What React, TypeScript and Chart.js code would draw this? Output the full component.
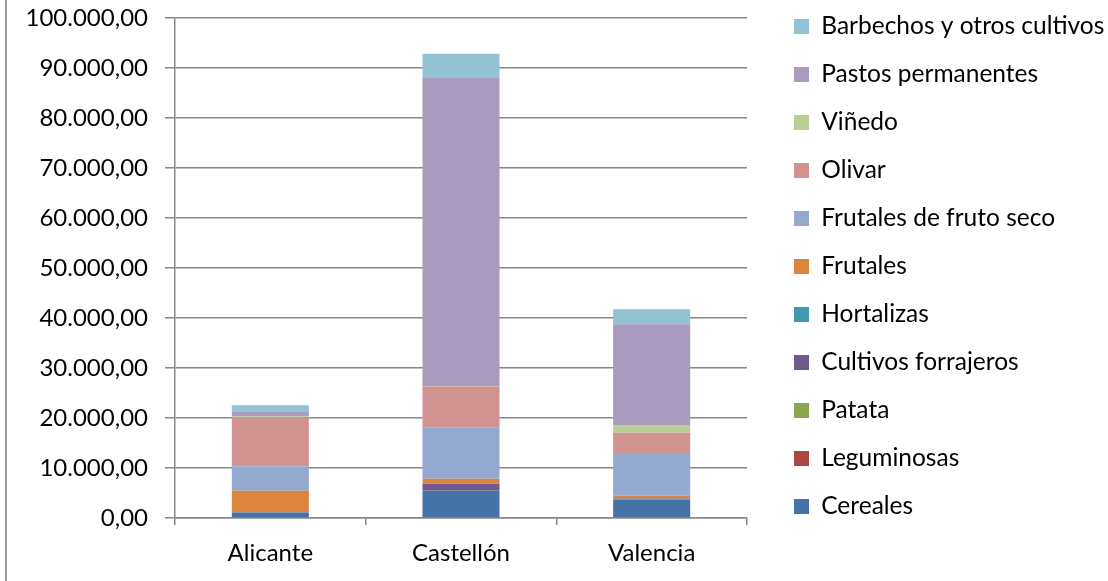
import React, { useEffect, useRef } from "react";
import { Chart, registerables } from "chart.js";

Chart.register(...registerables);

const categories = ["Alicante", "Castellón", "Valencia"];

const cereales = [1100, 5500, 3600];
const leguminosas = [60, 80, 60];
const patata = [40, 40, 40];
const cultivosForrajeros = [100, 1250, 200];
const hortalizas = [60, 40, 60];
const frutales = [4100, 950, 560];
const frutalesFrutoSeco = [4870, 10270, 8480];
const olivar = [9800, 8170, 4060];
const vinedo = [200, 60, 1540];
const pastosPermanentes = [1000, 61650, 20130];
const barbechos = [1200, 4860, 3000];

const yMax = 100000;
const yStep = 10000;

const seriesNames = [
  "Cereales",
  "Leguminosas",
  "Patata",
  "Cultivos forrajeros",
  "Hortalizas",
  "Frutales",
  "Frutales de fruto seco",
  "Olivar",
  "Viñedo",
  "Pastos permanentes",
  "Barbechos y otros cultivos",
];
const seriesValues = [
  cereales,
  leguminosas,
  patata,
  cultivosForrajeros,
  hortalizas,
  frutales,
  frutalesFrutoSeco,
  olivar,
  vinedo,
  pastosPermanentes,
  barbechos,
];
const seriesColors = [
  "#4572A7",
  "#AA4643",
  "#89A54E",
  "#71588F",
  "#4198AF",
  "#DB843D",
  "#93A9CF",
  "#D19392",
  "#B9CD96",
  "#A99BBD",
  "#92C3D4",
];

function formatEs(v: number): string {
  const int = Math.round(v).toString();
  const grouped = int.replace(/\B(?=(\d{3})+(?!\d))/g, ".");
  return grouped + ",00";
}

const FONT = "Lato";
const AXIS_FS = 24;
const LEGEND_FS = 24.5;
const GRID = "#888888";

export default function App() {
  const ref = useRef<HTMLCanvasElement>(null);
  useEffect(() => {
    document.body.style.margin = "0";
    const chart = new Chart(ref.current!, {
      type: "bar",
      data: {
        labels: categories,
        datasets: seriesNames.map((name, i) => ({
          label: name,
          data: seriesValues[i],
          backgroundColor: seriesColors[i],
          borderWidth: 0,
          barPercentage: 0.404,
          categoryPercentage: 1,
        })),
      },
      options: {
        responsive: false,
        animation: false,
        layout: { padding: { left: 0, right: 0, top: -9.25, bottom: 0 } },
        plugins: {
          legend: {
            position: "right",
            align: "start",
            reverse: true,
            maxWidth: 337.5,
            labels: {
              boxWidth: 15,
              boxHeight: 15,
              padding: 23.5,
              color: "#000",
              font: { family: FONT, size: LEGEND_FS },
            },
          },
          tooltip: { enabled: false },
        },
        scales: {
          x: {
            stacked: true,
            grid: {
              display: true,
              drawOnChartArea: false,
              drawTicks: true,
              tickLength: 7,
              offset: true,
              color: GRID,
              lineWidth: 1.5,
            },
            border: { display: true, color: GRID, width: 1.5 },
            ticks: { color: "#000", font: { family: FONT, size: AXIS_FS }, padding: 14 },
            afterFit: (s: any) => {
              s.height = 63;
            },
          },
          y: {
            stacked: true,
            min: 0,
            max: yMax,
            grid: { color: GRID, lineWidth: 1.5, tickLength: 10 },
            border: { display: true, color: GRID, width: 1.5 },
            ticks: {
              stepSize: yStep,
              padding: 17,
              color: "#000",
              font: { family: FONT, size: AXIS_FS },
              callback: (v: any) => formatEs(Number(v)),
            },
            afterFit: (s: any) => {
              s.width = 175;
              s.paddingTop = 0;
            },
          },
          padTop: {
            type: "linear",
            position: "top",
            display: true,
            grid: { display: false },
            ticks: { display: false },
            border: { display: false },
            afterFit: (s: any) => {
              s.height = 27.25;
            },
          },
          padRight: {
            type: "linear",
            position: "right",
            display: true,
            grid: { display: false },
            ticks: { display: false },
            border: { display: false },
            afterFit: (s: any) => {
              s.width = 23.5;
              s.paddingTop = 0;
              s.paddingBottom = 0;
            },
          },
        },
      } as any,
    });
    return () => chart.destroy();
  }, []);
  return (
    <div style={{ position: "relative", width: 1108, height: 581, background: "#fff" }}>
      <canvas
        ref={ref}
        width={1108}
        height={581}
        style={{ position: "absolute", left: 0, top: 0, width: 1108, height: 581 }}
      />
      <div
        style={{
          position: "absolute",
          left: 5,
          top: 0,
          width: 2,
          height: 581,
          background: "#9c9c9c",
        }}
      />
    </div>
  );
}
